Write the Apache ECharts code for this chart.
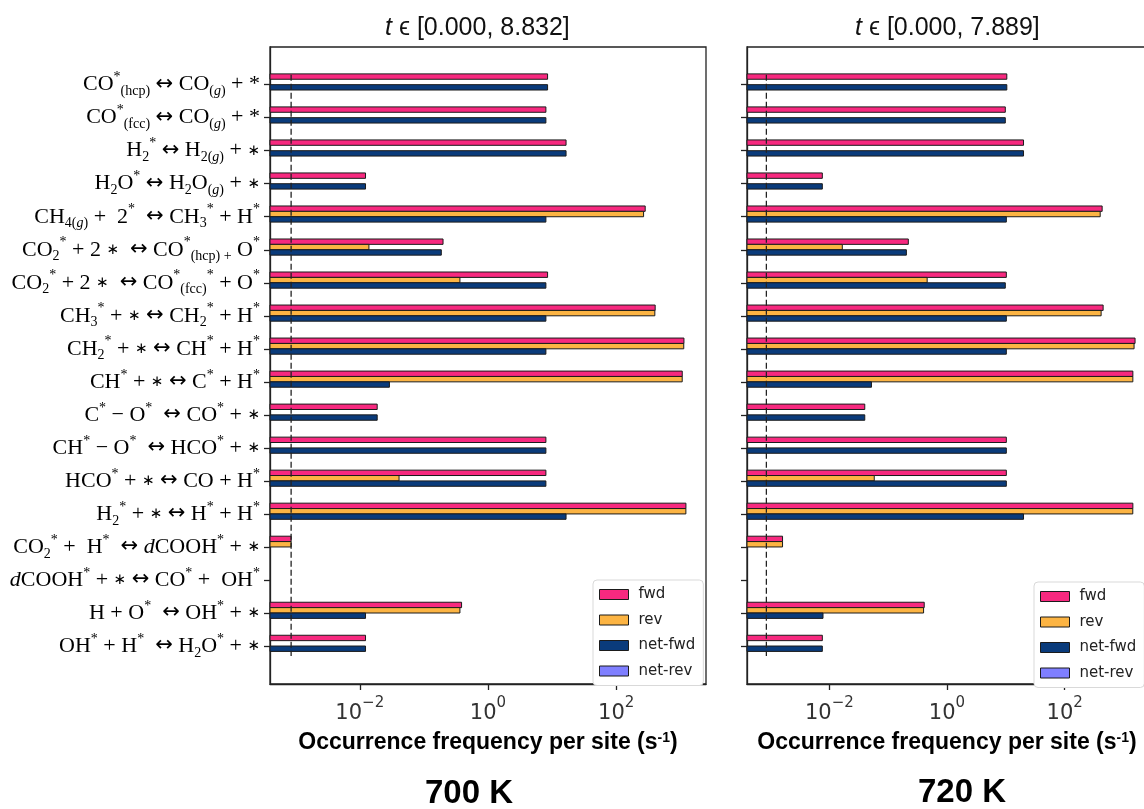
<!DOCTYPE html>
<html>
<head>
<meta charset="utf-8" />
<title>Occurrence frequency per site</title>
<script src="https://cdn.jsdelivr.net/npm/echarts@6.0.0/dist/echarts.min.js"></script>
<style>
    html, body { margin: 0; padding: 0; background: #fff; overflow: hidden; }
    #chart { width: 1144px; height: 809px; }
</style>
</head>
<body>
<div id="chart"></div>
<script>
// reaction steps, top to bottom (rich text markup for sub/superscripts, arrow and star)
var reactions = [
    'CO{sp|*}{sb|(hcp)} {ar|↔} CO{sb|(}{sbi|g}{sb|)} + *',
    'CO{sp|*}{sb|(fcc)} {ar|↔} CO{sb|(}{sbi|g}{sb|)} + *',
    'H{sb|2}{sp|*} {ar|↔} H{sb|2(}{sbi|g}{sb|)} + {st|∗}',
    'H{sb|2}O{sp|*} {ar|↔} H{sb|2}O{sb|(}{sbi|g}{sb|)} + {st|∗}',
    'CH{sb|4(}{sbi|g}{sb|)} +  2{sp|*}  {ar|↔} CH{sb|3}{sp|*} + H{sp|*}',
    'CO{sb|2}{sp|*} + 2 {st|∗}  {ar|↔} CO{sp|*}{sb|(hcp) +} O{sp|*}',
    'CO{sb|2}{sp|*} + 2 {st|∗}  {ar|↔} CO{sp|*}{sb|(fcc)}{sp|*} + O{sp|*}',
    'CH{sb|3}{sp|*} + {st|∗} {ar|↔} CH{sb|2}{sp|*} + H{sp|*}',
    'CH{sb|2}{sp|*} + {st|∗} {ar|↔} CH{sp|*} + H{sp|*}',
    'CH{sp|*} + {st|∗} {ar|↔} C{sp|*} + H{sp|*}',
    'C{sp|*} − O{sp|*}  {ar|↔} CO{sp|*} + {st|∗}',
    'CH{sp|*} − O{sp|*}  {ar|↔} HCO{sp|*} + {st|∗}',
    'HCO{sp|*} + {st|∗} {ar|↔} CO + H{sp|*}',
    'H{sb|2}{sp|*} + {st|∗} {ar|↔} H{sp|*} + H{sp|*}',
    'CO{sb|2}{sp|*} +  H{sp|*}  {ar|↔} {it|d}COOH{sp|*} + {st|∗}',
    '{it|d}COOH{sp|*} + {st|∗} {ar|↔} CO{sp|*} +  OH{sp|*}',
    'H + O{sp|*}  {ar|↔} OH{sp|*} + {st|∗}',
    'OH{sp|*} + H{sp|*}  {ar|↔} H{sb|2}O{sp|*} + {st|∗}'
];

var seriesNames = ['fwd', 'rev', 'net-fwd', 'net-rev'];
var xTickExponents = [-2, 0, 2];
var timeRanges = [['0.000', '8.832'], ['0.000', '7.889']];
var temperatures = ['700 K', '720 K'];

// occurrence frequencies (s^-1), 0 = no bar
var fwd700 = [8.5, 8.0, 16.5, 0.0123, 283, 0.199, 8.5, 405, 1138, 1070, 0.0187, 8.0, 8.0, 1222, 0.00085, 0, 0.387, 0.0123];
var rev700 = [0, 0, 0, 0, 267, 0.0139, 0.365, 400, 1130, 1069, 0, 0, 0.041, 1220, 0.00085, 0, 0.365, 0];
var netFwd700 = [8.5, 8.0, 16.5, 0.0123, 8.0, 0.187, 8.0, 8.0, 8.0, 0.029, 0.0187, 8.0, 8.0, 16.5, 0, 0, 0.0123, 0.0123];
var netRev700 = [0, 0, 0, 0, 0, 0, 0, 0, 0, 0, 0, 0, 0, 0, 0, 0, 0, 0];

var fwd720 = [10.4, 9.8, 20, 0.0076, 434, 0.22, 10.2, 451, 1574, 1445, 0.040, 10.2, 10.2, 1445, 0.0016, 0, 0.41, 0.0076];
var rev720 = [0, 0, 0, 0, 402, 0.0166, 0.46, 417, 1514, 1444, 0, 0, 0.058, 1440, 0.0016, 0, 0.40, 0];
var netFwd720 = [10.4, 9.8, 20, 0.0076, 10.2, 0.204, 9.8, 10.2, 10.2, 0.052, 0.040, 10.2, 10.2, 20, 0, 0, 0.0078, 0.0076];
var netRev720 = [0, 0, 0, 0, 0, 0, 0, 0, 0, 0, 0, 0, 0, 0, 0, 0, 0, 0];

// dashed reference line
var cutoffs = [0.00085, 0.00085];

// ---- styling / layout ----
var barColors = ['#f7297f', '#fcb443', '#0a3b7b', '#7f7fff'];
var edgeColor = '#1b1b1b';
var X_MIN = -3.4, X_MAX = 3.4;
var BAR_FRAC = 0.163;
var grids = [
    { left: 270, top: 47, width: 436, height: 637 },
    { left: 747, top: 47, width: 400, height: 637 }
];
var legendPos = [{ left: 593, top: 580 }, { left: 1034, top: 582 }];
var titlePos = [{ left: 380, top: 11 }, { left: 850, top: 11 }];
var tempPos = [{ left: 420, top: 772 }, { left: 913, top: 771 }];

var serif = 'Liberation Serif';
var axisColor = '#222';
var panels = [
    { values: [fwd700, rev700, netFwd700, netRev700] },
    { values: [fwd720, rev720, netFwd720, netRev720] }
];
var rowIndex = reactions.map(function (r, i) { return i; });

function makeBar(slot) {
    return function (params, api) {
        var row = api.value(1);
        var end = api.coord([api.value(0), row]);
        var start = api.coord([X_MIN, row]);
        var h = api.size([0, 1])[1] * BAR_FRAC;
        return {
            type: 'rect',
            shape: { x: start[0], y: end[1] + slot * h - h / 2, width: end[0] - start[0], height: h },
            style: { fill: api.visual('color'), stroke: edgeColor, lineWidth: 1 }
        };
    };
}

function powLabel(v) {
    return '{m|10}{e|' + (v < 0 ? '−' + (-v) : String(v)) + '}';
}

var option = {
    animation: false,
    backgroundColor: '#fff',
    title: [],
    legend: [],
    grid: [],
    xAxis: [],
    yAxis: [],
    series: []
};

panels.forEach(function (panel, p) {
    option.grid.push({
        left: grids[p].left, top: grids[p].top, width: grids[p].width, height: grids[p].height,
        show: true, borderColor: axisColor, borderWidth: 1.3, backgroundColor: 'transparent',
        containLabel: false, outerBoundsMode: 'none'
    });
    option.xAxis.push({
        type: 'value', gridIndex: p, min: X_MIN, max: X_MAX,
        splitLine: { show: false },
        axisLine: { show: true, onZero: false, lineStyle: { color: axisColor, width: 1.3 } },
        axisTick: { show: true, length: 6, customValues: xTickExponents, lineStyle: { color: axisColor, width: 1.3 } },
        axisLabel: {
            customValues: xTickExponents, margin: 12, formatter: powLabel,
            color: '#333', fontFamily: 'DejaVu Sans', fontSize: 21,
            rich: {
                m: { fontFamily: 'DejaVu Sans', fontSize: 21, color: '#333', lineHeight: 28, verticalAlign: 'bottom' },
                e: { fontFamily: 'DejaVu Sans', fontSize: 15, color: '#333', lineHeight: 16, verticalAlign: 'top' }
            }
        },
        name: 'Occurrence frequency per site (s{sp|-1})',
        nameLocation: 'middle', nameGap: 47,
        nameTextStyle: {
            fontFamily: 'Liberation Sans', fontWeight: 'bold', fontSize: 23, color: '#000',
            rich: { sp: { fontFamily: 'Liberation Sans', fontWeight: 'bold', fontSize: 14, verticalAlign: 'top', lineHeight: 14, color: '#000' } }
        }
    });
    option.yAxis.push({
        type: 'value', gridIndex: p, inverse: true, min: -1.14, max: 18.15,
        splitLine: { show: false },
        axisLine: { show: true, onZero: false, lineStyle: { color: axisColor, width: 1.3 } },
        axisTick: { show: true, length: 6, customValues: rowIndex, lineStyle: { color: axisColor, width: 1.3 } },
        axisLabel: {
            show: p === 0, customValues: rowIndex, margin: 10,
            formatter: function (v) { return reactions[Math.round(v)]; },
            fontFamily: serif, fontSize: 22, color: '#000', lineHeight: 28,
            rich: {
                sp: { fontFamily: serif, fontSize: 14, lineHeight: 14, verticalAlign: 'top', color: '#000' },
                sb: { fontFamily: serif, fontSize: 14, lineHeight: 13, verticalAlign: 'bottom', color: '#000' },
                sbi: { fontFamily: serif, fontSize: 14, lineHeight: 13, verticalAlign: 'bottom', fontStyle: 'italic', color: '#000' },
                it: { fontFamily: serif, fontSize: 22, lineHeight: 28, fontStyle: 'italic', color: '#000' },
                ar: { fontFamily: 'DejaVu Sans', fontSize: 21, lineHeight: 28, color: '#000' },
                st: { fontFamily: 'DejaVu Sans', fontSize: 15, lineHeight: 28, color: '#000' }
            }
        }
    });

    seriesNames.forEach(function (name, k) {
        var data = [];
        panel.values[k].forEach(function (v, i) {
            if (v > 0) data.push([Math.log10(v), i]);
        });
        option.series.push({
            type: 'custom', name: name, xAxisIndex: p, yAxisIndex: p,
            data: data, encode: { x: 0, y: 1 }, silent: true, z: 2,
            itemStyle: { color: barColors[k], borderColor: edgeColor, borderWidth: 1 },
            renderItem: makeBar(k - 1.5)
        });
    });

    var c = Math.log10(cutoffs[p]);
    option.series.push({
        type: 'line', name: 'cutoff', xAxisIndex: p, yAxisIndex: p,
        data: [[c, -0.3], [c, 17.3]], symbol: 'none', silent: true, z: 4,
        lineStyle: { color: '#222', width: 1.3, type: [6, 3] }
    });

    option.legend.push({
        data: seriesNames, orient: 'vertical',
        left: legendPos[p].left, top: legendPos[p].top,
        icon: 'rect', itemWidth: 29, itemHeight: 10, itemGap: 10.5,
        padding: [7, 8, 7, 6], backgroundColor: '#fff',
        borderColor: '#d9d9d9', borderWidth: 1, borderRadius: 4,
        selectedMode: false,
        itemStyle: { borderColor: edgeColor, borderWidth: 1 },
        textStyle: { fontFamily: 'DejaVu Sans', fontSize: 15, color: '#222', padding: [0, 0, 0, 5] }
    });

    option.title.push({
        text: '{i|t} ϵ [' + timeRanges[p].join(', ') + ']',
        left: titlePos[p].left, top: titlePos[p].top,
        textStyle: {
            fontFamily: 'Liberation Sans', fontWeight: 'normal', fontSize: 25, color: '#111',
            rich: { i: { fontFamily: 'Liberation Sans', fontStyle: 'italic', fontSize: 25, color: '#111' } }
        }
    });
    option.title.push({
        text: temperatures[p],
        left: tempPos[p].left, top: tempPos[p].top,
        textStyle: { fontFamily: 'Liberation Sans', fontWeight: 'bold', fontSize: 33, color: '#000' }
    });
});

var chart = echarts.init(document.getElementById('chart'), null, { renderer: 'canvas' });
chart.setOption(option);
</script>
</body>
</html>
